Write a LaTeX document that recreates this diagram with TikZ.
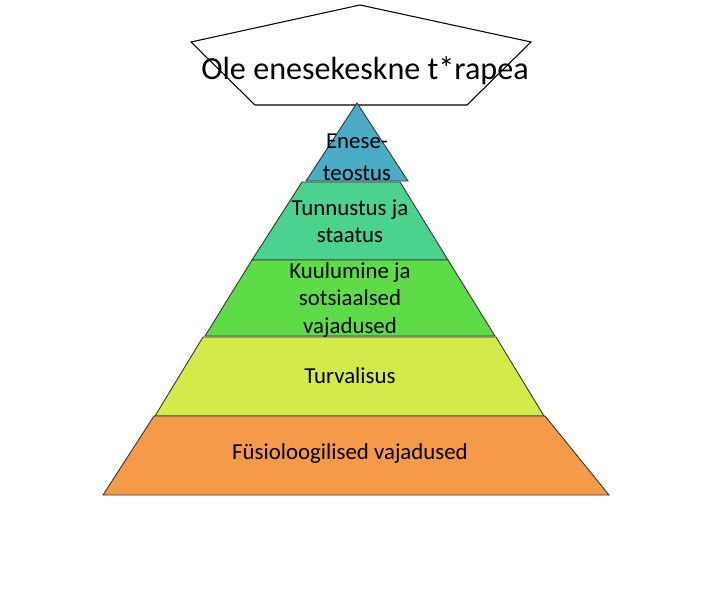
\documentclass[tikz,border=0pt]{standalone}
\usepackage{fontspec}
\setmainfont{Carlito}
\usepackage{tikz}
\definecolor{lvlblue}{HTML}{4BACC6}
\definecolor{lvlteal}{HTML}{4AD28E}
\definecolor{lvlgreen}{HTML}{5EDC48}
\definecolor{lvlyellow}{HTML}{D4EA4B}
\definecolor{lvlorange}{HTML}{F59A48}
\begin{document}
\begin{tikzpicture}[x=0.02cm,y=-0.02cm,
    level/.style={draw=black!80,line width=0.5pt},
    lbl/.style={font=\fontsize{13}{14.5}\selectfont,align=center,inner sep=0pt}]
    \useasboundingbox (0,0) rectangle (710,599);
    % title
    \draw[black,line width=0.6pt,fill=white] (360,5) -- (531,42) -- (467,105) -- (255,105) -- (191,42) -- cycle;
    \node[font=\fontsize{18.3}{20}\selectfont,inner sep=0pt] (title) at (365,71) {Ole enesekeskne t*rapea};
    % levels
    \filldraw[level,fill=lvlblue] (357,103) -- (408,181) -- (306,181) -- cycle;
    \filldraw[level,fill=lvlteal] (302,182) -- (400,182) -- (448,260) -- (252,260) -- cycle;
    \filldraw[level,fill=lvlgreen] (252,260) -- (448,260) -- (495,336) -- (205,336) -- cycle;
    \filldraw[level,fill=lvlyellow] (203,337) -- (496,337) -- (544,416) -- (155,416) -- cycle;
    \filldraw[level,fill=lvlorange] (154,416) -- (545,416) -- (609,495) -- (103,495) -- cycle;
    % texts
    \node[lbl] (top1) at (357,141) {Enese-};
    \node[lbl] (top2) at (357,173) {teostus};
    \node[lbl] (esteem) at (350,221) {Tunnustus ja\\[1pt]staatus};
    \node[lbl] (belong) at (350,300) {Kuulumine ja\\[1pt]sotsiaalsed\\[1pt]vajadused};
    \node[lbl] (safety) at (350,376) {Turvalisus};
    \node[lbl] (physio) at (350,454) {Füsioloogilised vajadused};
\end{tikzpicture}
\end{document}
